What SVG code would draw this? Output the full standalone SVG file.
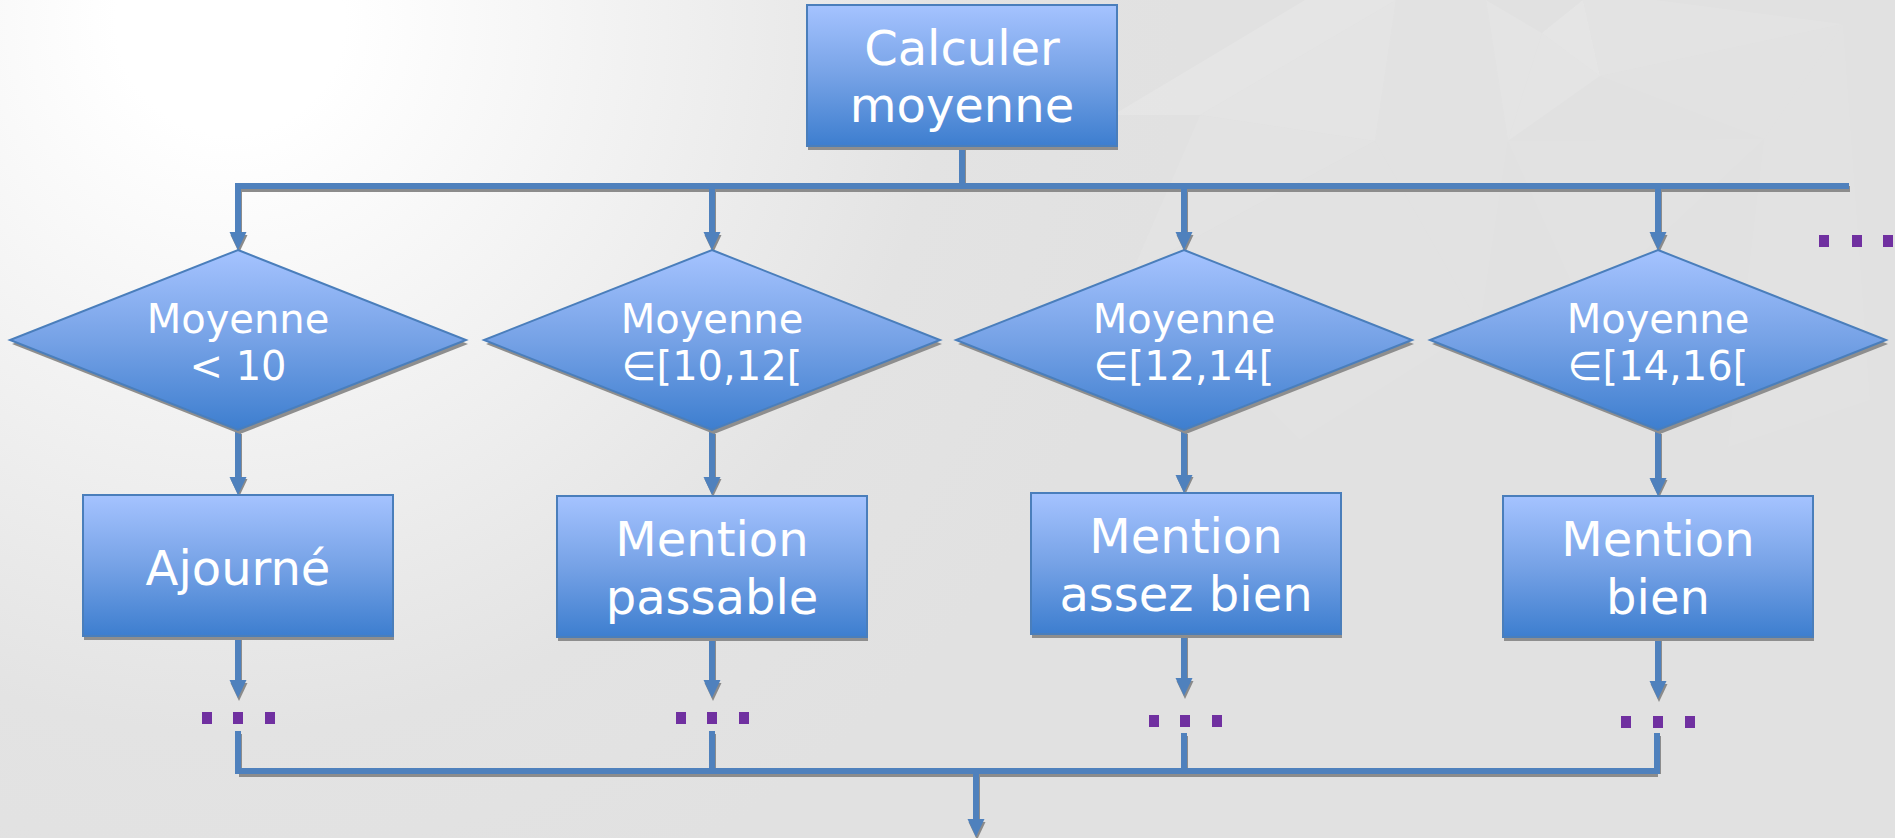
<svg xmlns="http://www.w3.org/2000/svg" width="1895" height="838" viewBox="0 0 1895 838">
  <defs>
    <radialGradient id="glow" cx="230" cy="20" r="950" gradientUnits="userSpaceOnUse">
      <stop offset="0" stop-color="#ffffff"/>
      <stop offset="0.12" stop-color="#ffffff"/>
      <stop offset="0.75" stop-color="#e3e3e3"/>
      <stop offset="1" stop-color="#e1e1e1"/>
    </radialGradient>
    <linearGradient id="fillBlue" x1="0" y1="0" x2="0" y2="1">
      <stop offset="0" stop-color="#a5c3ff"/>
      <stop offset="0.5" stop-color="#76a2e6"/>
      <stop offset="1" stop-color="#3d7ecf"/>
    </linearGradient>
    <marker id="head" viewBox="0 -10 20 20" markerWidth="20" markerHeight="20" refX="8" refY="0" orient="auto" markerUnits="userSpaceOnUse">
      <path d="M0,-8.5 L18,0 L0,8.5 z" fill="#4f81bd"/>
    </marker>
    <marker id="headShadow" viewBox="0 -10 20 20" markerWidth="20" markerHeight="20" refX="8" refY="0" orient="auto" markerUnits="userSpaceOnUse">
      <path d="M0,-8.5 L18,0 L0,8.5 z" fill="#8a8a8a"/>
    </marker>
  </defs>
  <style>
    .wire { fill: none; stroke: #4f81bd; stroke-width: 6; }
    .wireShadow { fill: none; stroke: #8c8c8c; stroke-width: 6; }
    .arrow { marker-end: url(#head); }
    .arrowShadow { marker-end: url(#headShadow); }
    .shape { fill: url(#fillBlue); stroke: #4a7ebb; stroke-width: 2; }
    .shadow { fill: #8e8e8e; }
    .label { font-family: "DejaVu Sans", "Liberation Sans", sans-serif; fill: #ffffff; text-anchor: middle; }
    .big { font-size: 48px; }
    .small { font-size: 40px; }
    .dot { fill: #7030a0; }
    .facet { fill: #ffffff; }
  </style>

  <!-- background -->
  <rect x="0" y="0" width="1895" height="838" fill="#e1e1e1"/>
  <rect x="0" y="0" width="1895" height="838" fill="url(#glow)"/>
  <g id="facets">
    <polygon class="facet" opacity="0.14" points="1113,115 1200,115 1396,0 1305,0"/>
    <polygon class="facet" opacity="0.1" points="1200,115 1375,141 1396,0"/>
    <polygon class="facet" opacity="0.06" points="1375,141 1508,141 1486,0 1396,0"/>
    <polygon class="facet" opacity="0.1" points="1508,141 1542,33 1486,0"/>
    <polygon class="facet" opacity="0.15" points="1542,33 1600,76 1583,0"/>
    <polygon class="facet" opacity="0.08" points="1600,76 1843,24 1656,0 1583,0"/>
    <polygon class="facet" opacity="0.1" points="1508,141 1600,76 1542,33"/>
    <polygon class="facet" opacity="0.05" points="1600,76 1764,139 1843,24"/>
    <polygon class="facet" opacity="0.07" points="1200,115 1132,272 1375,141"/>
    <polygon class="facet" opacity="0.04" points="1375,141 1480,326 1508,141"/>
    <polygon class="facet" opacity="0.06" points="1508,141 1583,308 1764,139"/>
    <polygon class="facet" opacity="0.05" points="1764,139 1728,447 1870,400 1843,24"/>
    <polygon class="facet" opacity="0.04" points="1132,272 1375,141 1480,326 1300,440"/>
  </g>

  <!-- connectors -->
  <g id="connectors">
    <g transform="translate(1,3)">
      <path class="wireShadow" d="M962,146 V186"/>
      <path class="wireShadow" d="M238,186 H1849"/>
      <path class="wireShadow arrowShadow" d="M238,186 V240"/>
      <path class="wireShadow arrowShadow" d="M712,186 V240"/>
      <path class="wireShadow arrowShadow" d="M1184,186 V240"/>
      <path class="wireShadow arrowShadow" d="M1658,186 V240"/>
      <path class="wireShadow arrowShadow" d="M238,431 V484"/>
      <path class="wireShadow arrowShadow" d="M712,431 V484"/>
      <path class="wireShadow arrowShadow" d="M1184,431 V482"/>
      <path class="wireShadow arrowShadow" d="M1658,431 V485"/>
      <path class="wireShadow arrowShadow" d="M238,637 V688"/>
      <path class="wireShadow arrowShadow" d="M712,638 V688"/>
      <path class="wireShadow arrowShadow" d="M1184,634 V686"/>
      <path class="wireShadow arrowShadow" d="M1658,638 V689"/>
      <path class="wireShadow" d="M238,731 V771"/>
      <path class="wireShadow" d="M712,731 V771"/>
      <path class="wireShadow" d="M1184,733 V771"/>
      <path class="wireShadow" d="M1657,733 V771"/>
      <path class="wireShadow" d="M238,771 H1657"/>
      <path class="wireShadow arrowShadow" d="M976,771 V827"/>
    </g>
    <path class="wire" d="M962,146 V186"/>
    <path class="wire" d="M238,186 H1849"/>
    <path class="wire arrow" d="M238,183 V240"/>
    <path class="wire arrow" d="M712,186 V240"/>
    <path class="wire arrow" d="M1184,186 V240"/>
    <path class="wire arrow" d="M1658,186 V240"/>
    <path class="wire arrow" d="M238,431 V485"/>
    <path class="wire arrow" d="M712,431 V485"/>
    <path class="wire arrow" d="M1184,431 V483"/>
    <path class="wire arrow" d="M1658,431 V486"/>
    <path class="wire arrow" d="M238,637 V688"/>
    <path class="wire arrow" d="M712,638 V688"/>
    <path class="wire arrow" d="M1184,634 V686"/>
    <path class="wire arrow" d="M1658,638 V689"/>
    <path class="wire" d="M238,731 V771"/>
    <path class="wire" d="M712,731 V771"/>
    <path class="wire" d="M1184,733 V771"/>
    <path class="wire" d="M1657,733 V771"/>
    <path class="wire" d="M235,771 H1660"/>
    <path class="wire arrow" d="M976,771 V827"/>
  </g>

  <!-- start box -->
  <g id="calculer">
    <rect class="shadow" x="808" y="9" width="310" height="141"/>
    <rect class="shape" x="807" y="5" width="310" height="141"/>
    <text class="label big" x="962" y="65">Calculer</text>
    <text class="label big" x="962" y="122">moyenne</text>
  </g>

  <!-- decisions -->
  <g id="test-lt10">
    <polygon class="shadow" points="240,254 468,344 240,434 12,344"/>
    <polygon class="shape" points="238,250 466,340 238,430 10,340"/>
    <text class="label small" x="238" y="333">Moyenne</text>
    <text class="label small" x="238" y="380">&lt; 10</text>
  </g>
  <g id="test-10-12">
    <polygon class="shadow" points="714,254 942,344 714,434 486,344"/>
    <polygon class="shape" points="712,250 940,340 712,430 484,340"/>
    <text class="label small" x="712" y="333">Moyenne</text>
    <text class="label small" x="712" y="380">∈[10,12[</text>
  </g>
  <g id="test-12-14">
    <polygon class="shadow" points="1186,254 1414,344 1186,434 958,344"/>
    <polygon class="shape" points="1184,250 1412,340 1184,430 956,340"/>
    <text class="label small" x="1184" y="333">Moyenne</text>
    <text class="label small" x="1184" y="380">∈[12,14[</text>
  </g>
  <g id="test-14-16">
    <polygon class="shadow" points="1660,254 1888,344 1660,434 1432,344"/>
    <polygon class="shape" points="1658,250 1886,340 1658,430 1430,340"/>
    <text class="label small" x="1658" y="333">Moyenne</text>
    <text class="label small" x="1658" y="380">∈[14,16[</text>
  </g>

  <!-- outcomes -->
  <g id="ajourne">
    <rect class="shadow" x="84" y="499" width="310" height="141"/>
    <rect class="shape" x="83" y="495" width="310" height="141"/>
    <text class="label big" x="238" y="585">Ajourné</text>
  </g>
  <g id="passable">
    <rect class="shadow" x="558" y="500" width="310" height="141"/>
    <rect class="shape" x="557" y="496" width="310" height="141"/>
    <text class="label big" x="712" y="556">Mention</text>
    <text class="label big" x="712" y="614">passable</text>
  </g>
  <g id="assez-bien">
    <rect class="shadow" x="1032" y="497" width="310" height="141"/>
    <rect class="shape" x="1031" y="493" width="310" height="141"/>
    <text class="label big" x="1186" y="553">Mention</text>
    <text class="label big" x="1186" y="611">assez bien</text>
  </g>
  <g id="bien">
    <rect class="shadow" x="1504" y="500" width="310" height="141"/>
    <rect class="shape" x="1503" y="496" width="310" height="141"/>
    <text class="label big" x="1658" y="556">Mention</text>
    <text class="label big" x="1658" y="614">bien</text>
  </g>

  <!-- continuation marks -->
  <g id="more-right">
    <rect class="dot" x="1819" y="235" width="10" height="12"/>
    <rect class="dot" x="1852" y="235" width="10" height="12"/>
    <rect class="dot" x="1883" y="235" width="10" height="12"/>
  </g>
  <g id="more-1">
    <rect class="dot" x="202" y="712" width="10" height="12"/>
    <rect class="dot" x="233" y="712" width="10" height="12"/>
    <rect class="dot" x="265" y="712" width="10" height="12"/>
  </g>
  <g id="more-2">
    <rect class="dot" x="676" y="712" width="10" height="12"/>
    <rect class="dot" x="707" y="712" width="10" height="12"/>
    <rect class="dot" x="739" y="712" width="10" height="12"/>
  </g>
  <g id="more-3">
    <rect class="dot" x="1149" y="715" width="10" height="12"/>
    <rect class="dot" x="1180" y="715" width="10" height="12"/>
    <rect class="dot" x="1212" y="715" width="10" height="12"/>
  </g>
  <g id="more-4">
    <rect class="dot" x="1621" y="716" width="10" height="12"/>
    <rect class="dot" x="1653" y="716" width="10" height="12"/>
    <rect class="dot" x="1685" y="716" width="10" height="12"/>
  </g>
</svg>
